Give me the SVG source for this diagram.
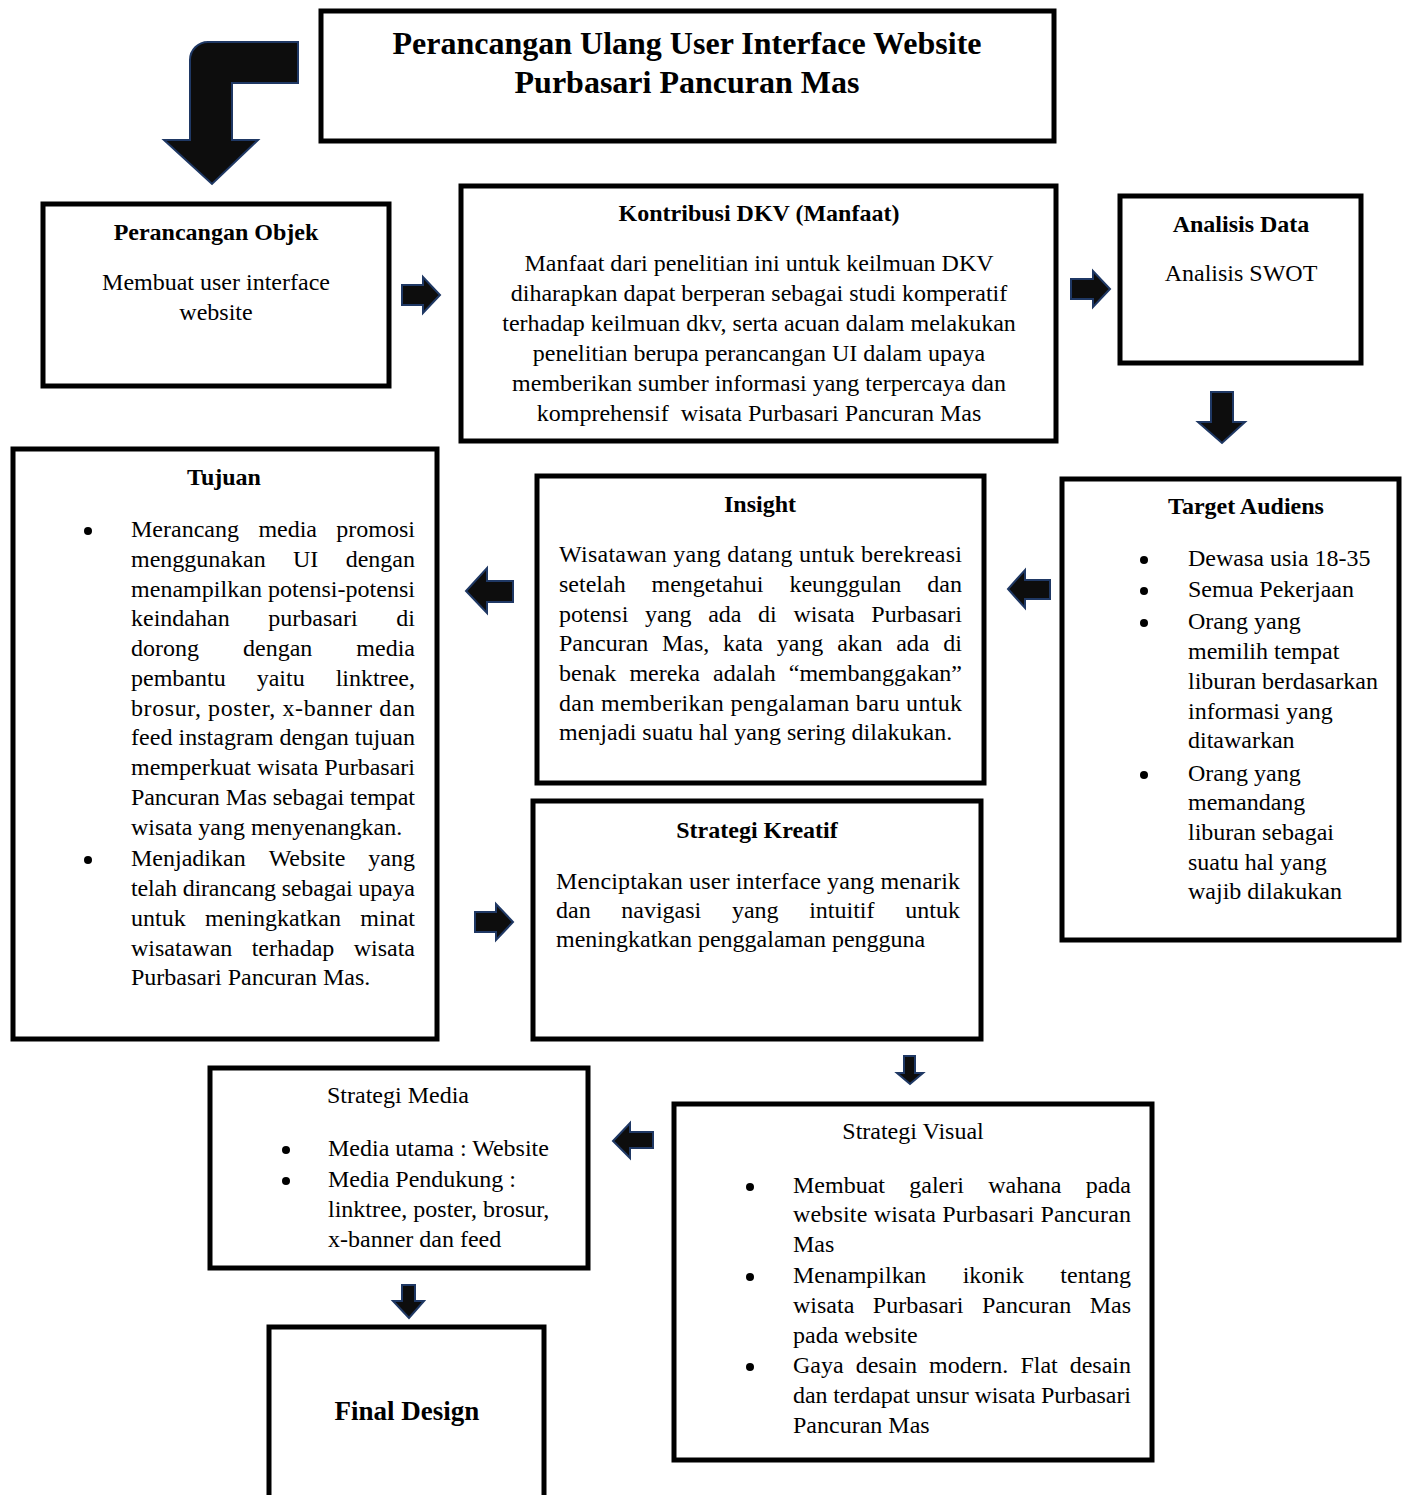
<svg xmlns="http://www.w3.org/2000/svg" width="1406" height="1495" viewBox="0 0 1406 1495">
<style>
.box{fill:#fff;stroke:#000;stroke-width:5}
text{font-family:"Liberation Serif","Times New Roman",serif;font-size:24px;fill:#000}
.b{font-weight:bold}
.c{text-anchor:middle}
.e{text-anchor:end}
.ttl{font-size:32px;font-weight:bold}
.fd{font-size:27px;font-weight:bold}
.ar{fill:#0d0d0d;stroke:#1f3864;stroke-width:2;stroke-linejoin:miter}
.dot{fill:#000}
</style>
<rect width="1406" height="1495" fill="#fff"/>

<g id="connectors">
<path class="ar" d="M298,42 H208 A18,18 0 0 0 190,60 V140 H164 L212,184 L258,140 H232 V83 H298 Z"/>
<path class="ar" d="M402,285 H423 V277 L440,295 L423,313 V305 H402 Z"/>
<path class="ar" d="M1071,279 H1093 V271 L1110,289 L1093,307 V299 H1071 Z"/>
<path class="ar" d="M1211,392 H1233 V422 H1245 L1222,443 L1198,422 H1211 Z"/>
<path class="ar" d="M1050,580 H1025 V570 L1008,589 L1025,608 V599 H1050 Z"/>
<path class="ar" d="M513,581 H487 V568 L466,591 L487,613 V602 H513 Z"/>
<path class="ar" d="M475,912 H496 V904 L513,922 L496,940 V932 H475 Z"/>
<path class="ar" d="M904,1056 H915 V1073 H923 L910,1084 L897,1073 H904 Z"/>
<path class="ar" d="M653,1132 H630 V1123 L613,1141 L630,1158 V1148 H653 Z"/>
<path class="ar" d="M402,1285 H415 V1301 H424 L409,1318 L393,1301 H402 Z"/>
</g>

<g id="title">
<rect class="box" x="321" y="11" width="733" height="130"/>
<text class="ttl c" x="687" y="54">Perancangan Ulang User Interface Website</text>
<text class="ttl c" x="687" y="93">Purbasari Pancuran Mas</text>
</g>

<g id="perancangan-objek">
<rect class="box" x="43" y="204" width="346" height="182"/>
<text class="b c" x="216" y="240">Perancangan Objek</text>
<text class="c" x="216" y="290">Membuat user interface</text>
<text class="c" x="216" y="320">website</text>
</g>

<g id="kontribusi">
<rect class="box" x="461" y="186" width="595" height="255"/>
<text class="b c" x="759" y="221">Kontribusi DKV (Manfaat)</text>
<text class="c" x="759" y="271">Manfaat dari penelitian ini untuk keilmuan DKV</text>
<text class="c" x="759" y="301">diharapkan dapat berperan sebagai studi komperatif</text>
<text class="c" x="759" y="331">terhadap keilmuan dkv, serta acuan dalam melakukan</text>
<text class="c" x="759" y="361">penelitian berupa perancangan UI dalam upaya</text>
<text class="c" x="759" y="391">memberikan sumber informasi yang terpercaya dan</text>
<text class="c" x="759" y="421">komprehensif&#160; wisata Purbasari Pancuran Mas</text>
</g>

<g id="analisis-data">
<rect class="box" x="1120" y="196" width="241" height="167"/>
<text class="b c" x="1241" y="232">Analisis Data</text>
<text class="c" x="1241" y="281">Analisis SWOT</text>
</g>

<g id="tujuan">
<rect class="box" x="13" y="449" width="424" height="590"/>
<text class="b c" x="224" y="485">Tujuan</text>
<circle class="dot" cx="88" cy="531" r="4"/>
<circle class="dot" cx="88" cy="860" r="4"/>
<text y="537"><tspan x="131">Merancang</tspan><tspan x="287.7" class="c">media</tspan></text>
<text class="e" x="415" y="537">promosi</text>
<text y="567"><tspan x="131">menggunakan</tspan><tspan x="305.7" class="c">UI</tspan></text>
<text class="e" x="415" y="567">dengan</text>
<text x="131" y="597" textLength="284" lengthAdjust="spacing">menampilkan potensi-potensi</text>
<text y="626"><tspan x="131">keindahan</tspan><tspan x="313" class="c">purbasari</tspan></text>
<text class="e" x="415" y="626">di</text>
<text y="656"><tspan x="131">dorong</tspan><tspan x="277.7" class="c">dengan</tspan></text>
<text class="e" x="415" y="656">media</text>
<text y="686"><tspan x="131">pembantu</tspan><tspan x="280.7" class="c">yaitu</tspan></text>
<text class="e" x="415" y="686">linktree,</text>
<text x="131" y="716" textLength="284" lengthAdjust="spacing">brosur, poster, x-banner dan</text>
<text x="131" y="745" textLength="284" lengthAdjust="spacing">feed instagram dengan tujuan</text>
<text x="131" y="775" textLength="284" lengthAdjust="spacing">memperkuat wisata Purbasari</text>
<text x="131" y="805" textLength="284" lengthAdjust="spacing">Pancuran Mas sebagai tempat</text>
<text x="131" y="835">wisata yang menyenangkan.</text>
<text y="866"><tspan x="131">Menjadikan</tspan><tspan x="307" class="c">Website</tspan></text>
<text class="e" x="415" y="866">yang</text>
<text x="131" y="896" textLength="284" lengthAdjust="spacing">telah dirancang sebagai upaya</text>
<text y="926"><tspan x="131">untuk</tspan><tspan x="273" class="c">meningkatkan</tspan></text>
<text class="e" x="415" y="926">minat</text>
<text y="956"><tspan x="131">wisatawan</tspan><tspan x="293" class="c">terhadap</tspan></text>
<text class="e" x="415" y="956">wisata</text>
<text x="131" y="985">Purbasari Pancuran Mas.</text>
</g>

<g id="insight">
<rect class="box" x="537" y="476" width="447" height="307"/>
<text class="b c" x="760" y="512">Insight</text>
<text x="559" y="562" textLength="403" lengthAdjust="spacing">Wisatawan yang datang untuk berekreasi</text>
<text y="592"><tspan x="559">setelah</tspan><tspan x="651.5">mengetahui</tspan><tspan x="789.4">keunggulan</tspan></text>
<text class="e" x="962" y="592">dan</text>
<text y="622"><tspan x="559">potensi</tspan><tspan x="644.9">yang</tspan><tspan x="708.2">ada</tspan><tspan x="758.1">di</tspan><tspan x="793.4">wisata</tspan></text>
<text class="e" x="962" y="622">Purbasari</text>
<text y="651"><tspan x="559">Pancuran</tspan><tspan x="662">Mas,</tspan><tspan x="723">kata</tspan><tspan x="776.7">yang</tspan><tspan x="837.2">akan</tspan><tspan x="896.2">ada</tspan></text>
<text class="e" x="962" y="651">di</text>
<text y="681"><tspan x="559">benak</tspan><tspan x="629.4">mereka</tspan><tspan x="713.1">adalah</tspan></text>
<text class="e" x="962" y="681">“membanggakan”</text>
<text x="559" y="711" textLength="403" lengthAdjust="spacing">dan memberikan pengalaman baru untuk</text>
<text x="559" y="740">menjadi suatu hal yang sering dilakukan.</text>
</g>

<g id="target-audiens">
<rect class="box" x="1062" y="479" width="337" height="461"/>
<text class="b c" x="1246" y="514">Target Audiens</text>
<circle class="dot" cx="1144" cy="560" r="4"/>
<circle class="dot" cx="1144" cy="591" r="4"/>
<circle class="dot" cx="1144" cy="623" r="4"/>
<circle class="dot" cx="1144" cy="775" r="4"/>
<text x="1188" y="566">Dewasa usia 18-35</text>
<text x="1188" y="597">Semua Pekerjaan</text>
<text x="1188" y="629">Orang yang</text>
<text x="1188" y="659">memilih tempat</text>
<text x="1188" y="689">liburan berdasarkan</text>
<text x="1188" y="719">informasi yang</text>
<text x="1188" y="748">ditawarkan</text>
<text x="1188" y="781">Orang yang</text>
<text x="1188" y="810">memandang</text>
<text x="1188" y="840">liburan sebagai</text>
<text x="1188" y="870">suatu hal yang</text>
<text x="1188" y="899">wajib dilakukan</text>
</g>

<g id="strategi-kreatif">
<rect class="box" x="533" y="801" width="448" height="238"/>
<text class="b c" x="757" y="838">Strategi Kreatif</text>
<text x="556" y="889" textLength="404" lengthAdjust="spacing">Menciptakan user interface yang menarik</text>
<text y="918"><tspan x="556">dan</tspan><tspan x="621.3">navigasi</tspan><tspan x="731.9">yang</tspan><tspan x="809.2">intuitif</tspan></text>
<text class="e" x="960" y="918">untuk</text>
<text x="556" y="947">meningkatkan penggalaman pengguna</text>
</g>

<g id="strategi-media">
<rect class="box" x="210" y="1068" width="378" height="200"/>
<text class="c" x="398" y="1103">Strategi Media</text>
<circle class="dot" cx="286" cy="1150" r="4"/>
<circle class="dot" cx="286" cy="1181" r="4"/>
<text x="328" y="1156">Media utama : Website</text>
<text x="328" y="1187">Media Pendukung :</text>
<text x="328" y="1217">linktree, poster, brosur,</text>
<text x="328" y="1247">x-banner dan feed</text>
</g>

<g id="strategi-visual">
<rect class="box" x="674" y="1104" width="478" height="356"/>
<text class="c" x="913" y="1139">Strategi Visual</text>
<circle class="dot" cx="750" cy="1187" r="4"/>
<circle class="dot" cx="750" cy="1277" r="4"/>
<circle class="dot" cx="750" cy="1367" r="4"/>
<text y="1193"><tspan x="793">Membuat</tspan><tspan x="909.3">galeri</tspan><tspan x="988.2">wahana</tspan></text>
<text class="e" x="1131" y="1193">pada</text>
<text x="793" y="1222" textLength="338" lengthAdjust="spacing">website wisata Purbasari Pancuran</text>
<text x="793" y="1252">Mas</text>
<text y="1283"><tspan x="793">Menampilkan</tspan><tspan x="993.3" class="c">ikonik</tspan></text>
<text class="e" x="1131" y="1283">tentang</text>
<text y="1313"><tspan x="793">wisata</tspan><tspan x="872.8">Purbasari</tspan><tspan x="981.9">Pancuran</tspan></text>
<text class="e" x="1131" y="1313">Mas</text>
<text x="793" y="1343">pada website</text>
<text y="1373"><tspan x="793">Gaya</tspan><tspan x="855.7">desain</tspan><tspan x="929">modern.</tspan><tspan x="1020.4">Flat</tspan></text>
<text class="e" x="1131" y="1373">desain</text>
<text x="793" y="1403" textLength="338" lengthAdjust="spacing">dan terdapat unsur wisata Purbasari</text>
<text x="793" y="1433">Pancuran Mas</text>
</g>

<g id="final-design">
<rect class="box" x="269" y="1327" width="275" height="200"/>
<text class="fd c" x="407" y="1420">Final Design</text>
</g>
</svg>
